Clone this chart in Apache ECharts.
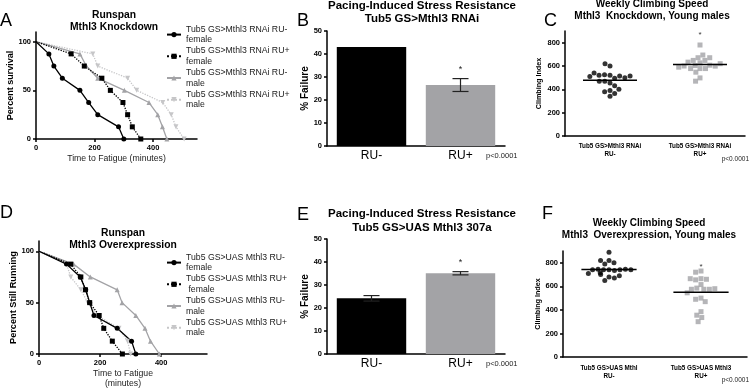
<!DOCTYPE html>
<html><head><meta charset="utf-8">
<script src="https://cdn.jsdelivr.net/npm/echarts@6/dist/echarts.min.js"></script>
<style>html,body{margin:0;padding:0;background:#fff}#c{width:750px;height:392px}</style>
</head><body><div id="c"></div>
<script>
// ---------- DATA ----------
// Panel A: Runspan, Mthl3 Knockdown  [time (min), percent survival]
const runA_RUm_female = [[0,100],[44,87.5],[61,75],[90,62.5],[150,50],[180,37.5],[211,25],[282,12.5],[300,0]];
const runA_RUp_female = [[0,100],[120,87.5],[165,75],[225,62.5],[254,50],[297,37.5],[313,25],[329,12.5],[358,0]];
const runA_RUm_male   = [[0,100],[150,87.5],[172,75],[211,62.5],[302,50],[386,37.5],[416,25],[432,12.5],[447,0]];
const runA_RUp_male   = [[0,100],[194,87.5],[211,75],[313,62.5],[344,50],[433,37.5],[462,25],[478,12.5],[506,0]];
const legendA = ['Tub5 GS>Mthl3 RNAi RU-\nfemale','Tub5 GS>Mthl3 RNAi RU+\nfemale','Tub5 GS>Mthl3 RNAi RU-\nmale','Tub5 GS>Mthl3 RNAi RU+\nmale'];

// Panel D: Runspan, Mthl3 Overexpression  [time (min), percent still running]
const runD_RUm_female = [[0,100],[90,87.5],[135,75],[153,62.5],[166,50],[180,37.5],[256,25],[303,12.5],[317,0]];
const runD_RUp_female = [[0,100],[104,87.5],[137,75],[152,62.5],[166,50],[197,37.5],[212,25],[240,12.5],[273,0]];
const runD_RUm_male   = [[0,100],[113,87.5],[168,75],[256,62.5],[272,50],[317,37.5],[347,25],[365,12.5],[394,0]];
const runD_RUp_male   = [[0,100],[90,87.5],[104,75],[137,62.5],[160,50],[190,37.5],[262,25],[290,12.5],[300,0]];
const legendD = ['Tub5 GS>UAS Mthl3 RU-\nfemale','Tub5 GS>UAS Mthl3 RU+\n female','Tub5 GS>UAS Mthl3 RU-\nmale','Tub5 GS>UAS Mthl3 RU+\nmale'];

const runTicks = [0,200,400];
const pctTicks = [0,50,100];

// Panels B / E: % Failure bars
const barCats = ['RU-','RU+'];
const failB_mean = [43, 26.5];
const failB_err  = [0, 2.8];
const failB_star = [0, 1];
const failE_mean = [24.2, 35.1];
const failE_err  = [1.2, 0.7];
const failE_star = [0, 1];

// Panels C / F: Climbing index
const climbC_cats = ['Tub5 GS>Mthl3 RNAi\nRU-','Tub5 GS>Mthl3 RNAi\nRU+'];
const climbC_RUm = [520,525,495,455,515,600,520,620,500,470,540,510,515,390,380,365,340,430,400,470];
const climbC_RUp = [780,627,604,671,648,648,578,578,607,694,671,633,578,599,547,498,470,600,620,590];
const climbC_star = [1, 870];
const climbF_cats = ['Tub5 GS>UAS Mthl\nRU-','Tub5 GS>UAS Mthl3\nRU+'];
const climbF_RUm = [890,820,790,800,820,740,740,735,740,745,740,745,740,710,715,700,680,670,650,690];
const climbF_RUp = [730,720,665,655,615,660,665,585,575,575,575,580,500,545,490,470,385,355,335,300];
const climbF_star = [1, 770];
const climbTicks = [0,200,400,600,800];

// ---------- STYLE ----------
const FF = '"Liberation Sans", Arial, sans-serif';
const BLACK = '#000', GRAY = '#a3a3a6', LGRAY = '#c6c6c8';

function valAxis(gi, min, max, ticks, name, nameGap, nameSize, extra) {
  const a = {
    type:'value', gridIndex:gi, min:min, max:max,
    axisLine:{show:true, onZero:false, lineStyle:{color:BLACK, width:1.5}},
    axisTick:{show:true, length:3, lineStyle:{color:BLACK, width:1.5}},
    axisLabel:{color:BLACK, fontSize:7.5, fontWeight:'bold', fontFamily:FF, margin:5},
    splitLine:{show:false},
    name:name, nameLocation:'middle', nameGap:nameGap,
    nameTextStyle:{color:BLACK, fontSize:nameSize, fontWeight:'bold', fontFamily:FF}
  };
  if (ticks) { a.axisTick.customValues = ticks; a.axisLabel.customValues = ticks; }
  return Object.assign(a, extra || {});
}
function catAxis(gi, data, labelStyle, extra) {
  return Object.assign({
    type:'category', gridIndex:gi, data:data,
    axisLine:{show:true, lineStyle:{color:BLACK, width:1.5}},
    axisTick:{show:false},
    axisLabel:Object.assign({color:BLACK, fontFamily:FF}, labelStyle),
    splitLine:{show:false}
  }, extra || {});
}
function lineSeries(name, gi, data, symbol, color, type, rotate) {
  return {
    type:'line', name:name, xAxisIndex:gi, yAxisIndex:gi, data:data,
    symbol:symbol, symbolRotate:rotate || 0,
    symbolSize:function(v, p){ return p.dataIndex === 0 ? 0 : 5; },
    showSymbol:true, animation:false,
    lineStyle:{color:color, width:1.3, type:type},
    itemStyle:{color:color}
  };
}
function errRender(params, api) {
  const idx = api.value(0), lo = api.value(1), hi = api.value(2), star = api.value(3);
  const pHi = api.coord([idx, hi]), pLo = api.coord([idx, lo]);
  const half = api.size([1, 0])[0] * 0.09;
  const ch = [];
  if (hi > lo) {
    const st = {stroke:'#222', lineWidth:1.2};
    ch.push({type:'line', shape:{x1:pHi[0], y1:pHi[1], x2:pLo[0], y2:pLo[1]}, style:st});
    ch.push({type:'line', shape:{x1:pHi[0]-half, y1:pHi[1], x2:pHi[0]+half, y2:pHi[1]}, style:st});
    ch.push({type:'line', shape:{x1:pLo[0]-half, y1:pLo[1], x2:pLo[0]+half, y2:pLo[1]}, style:st});
  }
  if (star) {
    ch.push({type:'text', x:pHi[0], y:pHi[1]-9.5, style:{text:'*', textAlign:'center', textVerticalAlign:'middle', fontSize:9, fontFamily:FF, fill:'#222'}});
  }
  return {type:'group', children:ch};
}
function meanRender(params, api) {
  const p = api.coord([api.value(0), api.value(1)]);
  const w = api.size([1, 0])[0] * 0.3;
  return {type:'line', shape:{x1:p[0]-w, y1:p[1], x2:p[0]+w, y2:p[1]}, style:{stroke:BLACK, lineWidth:1.5}};
}
function starRender(params, api) {
  const p = api.coord([api.value(0), api.value(1)]);
  return {type:'text', x:p[0], y:p[1], style:{text:'*', textAlign:'center', textVerticalAlign:'middle', fontSize:8, fontFamily:FF, fill:'#333'}};
}
const mean = arr => arr.reduce((s, v) => s + v, 0) / arr.length;
const errData = (m, e, s) => m.map((v, i) => [i, v - e[i], v + e[i], s[i]]);
const barColors = [BLACK, GRAY];

function T(x, y, text, size, weight, align, extra) {
  return {type:'text', x:x, y:y, silent:true, style:Object.assign({
    text:text, fontSize:size, fontWeight:weight || 'normal', fontFamily:FF, fill:BLACK,
    textAlign:align || 'center', textVerticalAlign:'middle'
  }, extra || {})};
}

const legendBase = {
  orient:'vertical', itemWidth:14, itemHeight:6.5, itemGap:0.5,
  textStyle:{color:'#222', fontSize:8.7, lineHeight:10.6, fontFamily:FF},
  selectedMode:false, padding:0
};

const option = {
  animation:false,
  backgroundColor:'#fff',
  grid:[
    {left:36, top:32, width:161, height:107, outerBoundsMode:'none'},   // A
    {left:327, top:31, width:178, height:115, outerBoundsMode:'none'},  // B
    {left:565, top:31, width:180, height:105, outerBoundsMode:'none'},  // C
    {left:39, top:241, width:168, height:113, outerBoundsMode:'none'},  // D
    {left:327, top:239, width:178, height:115, outerBoundsMode:'none'}, // E
    {left:563, top:251, width:184, height:106, outerBoundsMode:'none'}  // F
  ],
  xAxis:[
    Object.assign(valAxis(0, 0, 550, runTicks, 'Time to Fatigue (minutes)', 15, 8.7),
      {nameTextStyle:{color:'#222', fontSize:8.7, fontFamily:FF}}),
    catAxis(1, barCats, {fontSize:12, margin:4}),
    catAxis(2, climbC_cats, {fontSize:6.3, fontWeight:'bold', lineHeight:8, margin:6},
      {jitter:52, jitterOverlap:false, jitterMargin:0.5}),
    Object.assign(valAxis(3, 0, 550, runTicks, 'Time to Fatigue\n(minutes)', 15, 8.7),
      {nameTextStyle:{color:'#222', fontSize:8.7, lineHeight:10, fontFamily:FF}}),
    catAxis(4, barCats, {fontSize:12, margin:4}),
    catAxis(5, climbF_cats, {fontSize:6.3, fontWeight:'bold', lineHeight:8, margin:7},
      {jitter:52, jitterOverlap:false, jitterMargin:0.5})
  ],
  yAxis:[
    valAxis(0, 0, 110, pctTicks, 'Percent survival', 19, 9),
    valAxis(1, 0, 50, null, '% Failure', 14, 10, {interval:10}),
    valAxis(2, 0, 900, climbTicks, 'Climbing Index', 22, 7.2),
    valAxis(3, 0, 110, pctTicks, 'Percent Still Running', 20, 9.2),
    valAxis(4, 0, 50, null, '% Failure', 14, 10, {interval:10}),
    valAxis(5, 0, 900, climbTicks, 'Climbing Index', 21, 7.2)
  ],
  legend:[
    Object.assign({}, legendBase, {left:166, top:24, data:legendA}),
    Object.assign({}, legendBase, {left:166, top:252, data:legendD})
  ],
  series:[
    // A
    lineSeries(legendA[3], 0, runA_RUp_male, 'triangle', LGRAY, 'dotted', 180),
    lineSeries(legendA[2], 0, runA_RUm_male, 'triangle', GRAY, 'solid'),
    lineSeries(legendA[1], 0, runA_RUp_female, 'rect', BLACK, 'dotted'),
    lineSeries(legendA[0], 0, runA_RUm_female, 'circle', BLACK, 'solid'),
    // D
    lineSeries(legendD[3], 3, runD_RUp_male, 'triangle', LGRAY, 'dotted', 180),
    lineSeries(legendD[2], 3, runD_RUm_male, 'triangle', GRAY, 'solid'),
    lineSeries(legendD[1], 3, runD_RUp_female, 'rect', BLACK, 'dotted'),
    lineSeries(legendD[0], 3, runD_RUm_female, 'circle', BLACK, 'solid'),
    // B
    {type:'bar', xAxisIndex:1, yAxisIndex:1, barWidth:'78%',
     data:failB_mean.map((v, i) => ({value:v, itemStyle:{color:barColors[i]}}))},
    {type:'custom', xAxisIndex:1, yAxisIndex:1, renderItem:errRender, z:5,
     encode:{x:0, y:[1, 2]}, data:errData(failB_mean, failB_err, failB_star)},
    // E
    {type:'bar', xAxisIndex:4, yAxisIndex:4, barWidth:'78%',
     data:failE_mean.map((v, i) => ({value:v, itemStyle:{color:barColors[i]}}))},
    {type:'custom', xAxisIndex:4, yAxisIndex:4, renderItem:errRender, z:5,
     encode:{x:0, y:[1, 2]}, data:errData(failE_mean, failE_err, failE_star)},
    // C
    {type:'scatter', xAxisIndex:2, yAxisIndex:2, symbol:'circle', symbolSize:5,
     itemStyle:{color:BLACK}, data:climbC_RUm.map(v => [0, v])},
    {type:'scatter', xAxisIndex:2, yAxisIndex:2, symbol:'rect', symbolSize:5,
     itemStyle:{color:GRAY}, data:climbC_RUp.map(v => [1, v])},
    {type:'custom', xAxisIndex:2, yAxisIndex:2, renderItem:meanRender, z:5, encode:{x:0, y:1},
     data:[[0, mean(climbC_RUm)], [1, mean(climbC_RUp)]]},
    {type:'custom', xAxisIndex:2, yAxisIndex:2, renderItem:starRender, z:5, encode:{x:0, y:1},
     data:[climbC_star]},
    // F
    {type:'scatter', xAxisIndex:5, yAxisIndex:5, symbol:'circle', symbolSize:5,
     itemStyle:{color:BLACK}, data:climbF_RUm.map(v => [0, v])},
    {type:'scatter', xAxisIndex:5, yAxisIndex:5, symbol:'rect', symbolSize:5,
     itemStyle:{color:GRAY}, data:climbF_RUp.map(v => [1, v])},
    {type:'custom', xAxisIndex:5, yAxisIndex:5, renderItem:meanRender, z:5, encode:{x:0, y:1},
     data:[[0, mean(climbF_RUm)], [1, mean(climbF_RUp)]]},
    {type:'custom', xAxisIndex:5, yAxisIndex:5, renderItem:starRender, z:5, encode:{x:0, y:1},
     data:[climbF_star]}
  ],
  graphic:[
    // panel letters
    T(0, 21.5, 'A', 18, 'normal', 'left'),
    T(297, 21.5, 'B', 18, 'normal', 'left'),
    T(544, 21.5, 'C', 18, 'normal', 'left'),
    T(0, 213.5, 'D', 18, 'normal', 'left'),
    T(297, 215, 'E', 18, 'normal', 'left'),
    T(542, 214, 'F', 18, 'normal', 'left'),
    // titles
    T(114, 21, 'Runspan\nMthl3 Knockdown', 10.3, 'bold', 'center', {lineHeight:11.5}),
    T(422, 12.5, 'Pacing-Induced Stress Resistance\nTub5 GS>Mthl3 RNAi', 11.5, 'bold', 'center', {lineHeight:13}),
    T(652, 10, 'Weekly Climbing Speed\nMthl3  Knockdown, Young males', 10, 'bold', 'center', {lineHeight:12}),
    T(123, 239.5, 'Runspan\nMthl3 Overexpression', 10.3, 'bold', 'center', {lineHeight:12}),
    T(422, 220.7, 'Pacing-Induced Stress Resistance\nTub5 GS>UAS Mthl3 307a', 11.5, 'bold', 'center', {lineHeight:13.5}),
    T(649, 229.5, 'Weekly Climbing Speed\nMthl3  Overexpression, Young males', 10, 'bold', 'center', {lineHeight:12}),
    // p-values
    T(486, 156, 'p<0.0001', 7.5, 'normal', 'left', {fill:'#222'}),
    T(486, 364, 'p<0.0001', 7.5, 'normal', 'left', {fill:'#222'}),
    T(749, 159, 'p<0.0001', 6.5, 'normal', 'right', {fill:'#222'}),
    T(749, 380, 'p<0.0001', 6.5, 'normal', 'right', {fill:'#222'})
  ]
};
const chart = echarts.init(document.getElementById('c'));
chart.setOption(option);
</script>
</body></html>
